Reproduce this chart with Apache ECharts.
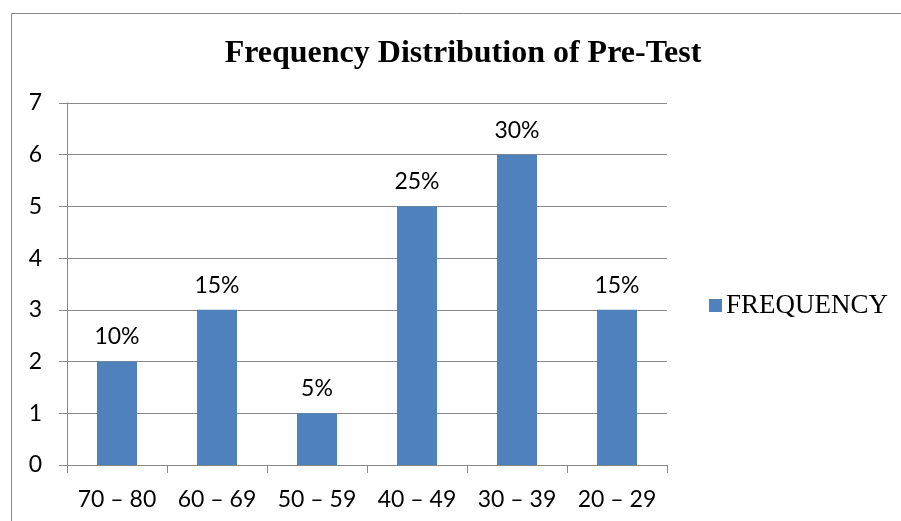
<!DOCTYPE html>
<html><head><meta charset="utf-8">
<script src="https://cdn.jsdelivr.net/npm/echarts@6/dist/echarts.min.js"></script>
<style>html,body{margin:0;padding:0;background:#fff}#c{width:901px;height:521px}</style>
</head><body><div id="c"></div>
<script>
const categories = ['70 – 80', '60 – 69', '50 – 59', '40 – 49', '30 – 39', '20 – 29'];
const frequency = [2, 3, 1, 5, 6, 3];
const percentLabels = ['10%', '15%', '5%', '25%', '30%', '15%'];
const yTicks = [0, 1, 2, 3, 4, 5, 6, 7];

const chart = echarts.init(document.getElementById('c'));
chart.setOption({
  animation: false,
  backgroundColor: '#fff',
  graphic: [{
    type: 'rect', shape: {x: 11.5, y: 13.5, width: 1000, height: 1000},
    style: {fill: 'none', stroke: '#888', lineWidth: 1}, silent: true
  }],
  title: {
    text: 'Frequency Distribution of Pre-Test',
    left: 463, top: 38, textAlign: 'center', padding: 0,
    textStyle: {fontFamily: 'Liberation Serif', fontWeight: 'bold', fontSize: 32, color: '#000'}
  },
  legend: {
    data: ['FREQUENCY'], left: 709, top: 292, orient: 'vertical', padding: 0,
    itemWidth: 13, itemHeight: 13, itemGap: 4, icon: 'rect',
    textStyle: {fontFamily: 'Liberation Serif', fontSize: 27, color: '#000', padding: [0,0,0,-1]}
  },
  grid: {left: 67, right: 234, top: 103, bottom: 56, containLabel: false},
  xAxis: {
    type: 'category', data: categories,
    axisLine: {lineStyle: {color: '#888', width: 1}},
    axisTick: {show: true, length: 8, alignWithLabel: false, lineStyle: {color: '#888'}},
    axisLabel: {margin: 23, fontFamily: 'Lato', fontSize: 23, color: '#000', interval: 0}
  },
  yAxis: {
    type: 'value', min: yTicks[0], max: yTicks[yTicks.length - 1], interval: 1,
    axisLine: {show: true, lineStyle: {color: '#888', width: 1}},
    axisTick: {show: true, length: 8, lineStyle: {color: '#888'}},
    splitLine: {lineStyle: {color: '#888', width: 1}},
    axisLabel: {margin: 25, fontFamily: 'Lato', fontSize: 23, color: '#000'}
  },
  series: [{
    name: 'FREQUENCY', type: 'bar', data: frequency,
    barWidth: '40%',
    itemStyle: {color: '#4F81BD'},
    label: {
      show: true, position: 'top', distance: 13,
      fontFamily: 'Lato', fontSize: 23, color: '#000',
      formatter: p => percentLabels[p.dataIndex]
    }
  }]
});
</script></body></html>
